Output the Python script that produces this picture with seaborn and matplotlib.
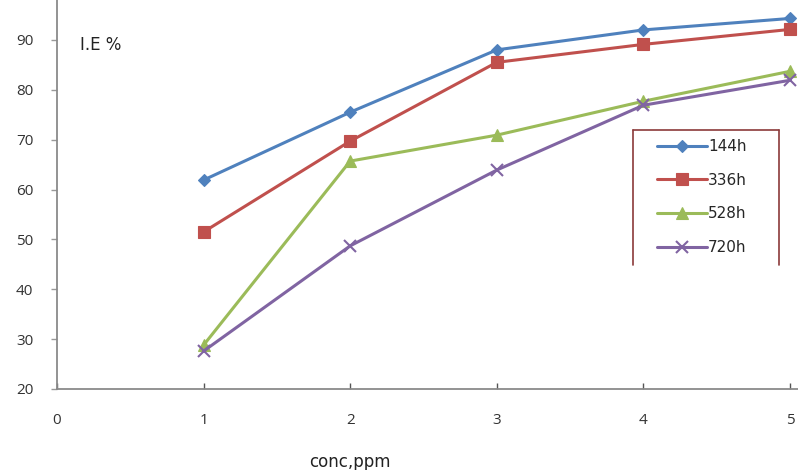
import matplotlib
matplotlib.use("Agg")
import matplotlib.pyplot as plt
from matplotlib.lines import Line2D
import seaborn as sns
import pandas as pd

conc = [1, 2, 3, 4, 5]
ie_144h = [61.9, 75.5, 88.0, 92.0, 94.3]
ie_336h = [51.5, 69.7, 85.5, 89.1, 92.1]
ie_528h = [28.8, 65.7, 70.9, 77.7, 83.7]
ie_720h = [27.6, 48.7, 63.9, 76.9, 81.9]
series_names = ["144h", "336h", "528h", "720h"]
x_ticks = [0, 1, 2, 3, 4, 5]
y_ticks = [20, 30, 40, 50, 60, 70, 80, 90]

sns.set_theme(style="white")
plt.rcParams['font.family'] = ['Open Sans', 'DejaVu Sans']

W, H = 798, 470
fig = plt.figure(figsize=(W / 100, H / 100), dpi=100)
ax = fig.add_axes([57 / W, 81 / H, 1 - 57 / W, 389 / H])

styles = {
    "144h": dict(color="#4F81BD", marker="D", markersize=6.5),
    "336h": dict(color="#C0504D", marker="s", markersize=9),
    "528h": dict(color="#9BBB59", marker="^", markersize=8.5),
    "720h": dict(color="#8064A2", marker="x", markersize=8, markeredgewidth=1.5),
}
values = [ie_144h, ie_336h, ie_528h, ie_720h]
for name, vals in zip(series_names, values):
    df = pd.DataFrame({"conc": conc, "IE": vals})
    st = styles[name]
    sns.lineplot(data=df, x="conc", y="IE", ax=ax, label=name, color=st["color"],
                 marker=st["marker"], markersize=st["markersize"],
                 markeredgewidth=st.get("markeredgewidth", 0.8),
                 markeredgecolor=st["color"], linewidth=2.2)

ax.set_xlim(0, 5.055)
ax.set_ylim(20, 98)
ax.set_xticks(x_ticks)
ax.set_yticks(y_ticks)
ax.tick_params(axis="x", bottom=True, direction="in", length=4, width=1, pad=17,
               labelsize=11, colors="#555555", labelcolor="#333333")
ax.tick_params(axis="y", left=True, direction="out", length=4, width=1, pad=13,
               labelsize=11, colors="#999999", labelcolor="#333333")
for s in ["top", "right"]:
    ax.spines[s].set_visible(False)
for s in ["left", "bottom"]:
    ax.spines[s].set_color("#8a8a8a")
    ax.spines[s].set_linewidth(1.3)

ax.set_xlabel("")
ax.set_ylabel("")
fig.text(80 / W, 1 - 45 / H, "I.E %", fontsize=12, color="#222222", va="center", ha="left",
         family=["DejaVu Sans"])
fig.text(350 / W, 1 - 462 / H, "conc,ppm", fontsize=12, color="#222222", va="center",
         ha="center", family=["DejaVu Sans"])

leg = ax.legend(loc="upper left", bbox_to_anchor=(657 / W, 1 - 139 / H),
                bbox_transform=fig.transFigure, frameon=False,
                prop={"family": "DejaVu Sans", "size": 11}, handlelength=3.3,
                handletextpad=0.05, labelspacing=1.22, borderpad=0, borderaxespad=0)

# legend frame (left, top, right edges)
fc = "#8B3A3A"
for xs, ys in [([633, 633], [265, 130]), ([633, 779], [130, 130]), ([779, 779], [130, 265])]:
    fig.add_artist(Line2D([x / W for x in xs], [1 - y / H for y in ys],
                          color=fc, linewidth=1.2, transform=fig.transFigure))

fig.savefig("out.png", dpi=100)
